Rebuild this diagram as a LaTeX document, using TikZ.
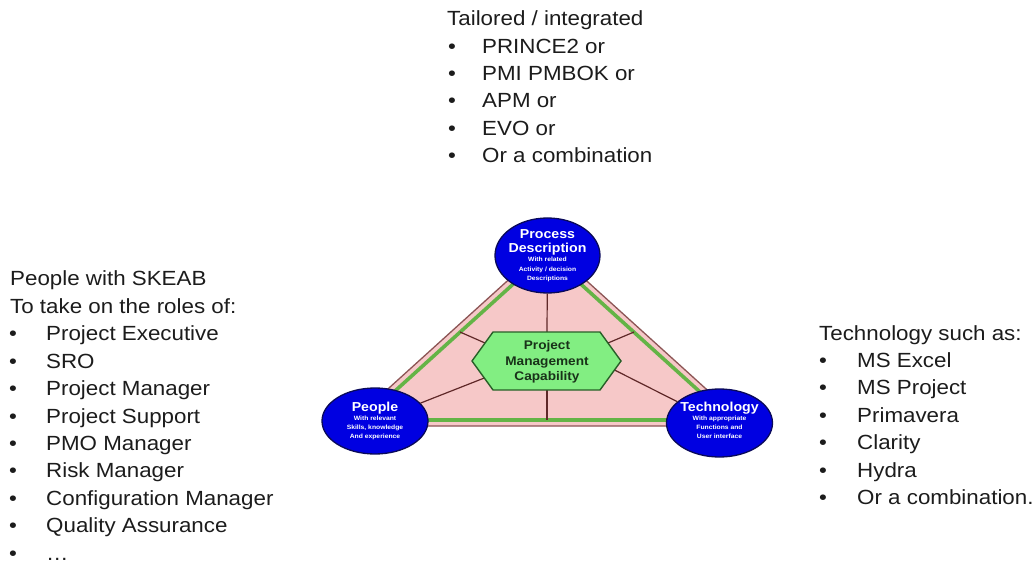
\documentclass[tikz,border=0pt]{standalone}
\usepackage{fontspec}
\setmainfont{Liberation Sans}[FakeStretch=1.09]
\usetikzlibrary{shapes.geometric}
\definecolor{inkgray}{RGB}{28,28,28}
\definecolor{pinkfill}{RGB}{246,200,200}
\definecolor{edgebrown}{RGB}{140,85,85}
\definecolor{bandgreen}{RGB}{100,180,70}
\definecolor{spokecol}{RGB}{95,40,40}
\definecolor{ellblue}{RGB}{0,0,225}
\definecolor{ellline}{RGB}{10,10,90}
\definecolor{hexfill}{RGB}{130,238,130}
\definecolor{hexline}{RGB}{40,95,40}
\definecolor{hextext}{RGB}{25,50,25}
\begin{document}
\begin{tikzpicture}[x=1bp,y=-1bp,
  listtxt/.style={font=\fontsize{20.5bp}{24bp}\selectfont, text=inkgray, inner sep=0pt},
  ellnode/.style={ellipse, draw=ellline, line width=1.3bp, fill=ellblue, inner sep=0pt},
  ttl/.style={font=\fontsize{13bp}{15bp}\selectfont\bfseries, text=white, inner sep=0pt, anchor=base},
  sub/.style={font=\fontsize{6.2bp}{7bp}\selectfont\bfseries, text=white, inner sep=0pt, anchor=base},
  hextxt/.style={font=\fontsize{12.5bp}{15bp}\selectfont\bfseries, text=hextext, inner sep=0pt, anchor=base},
  spoke/.style={draw=spokecol, line width=1.2bp},
]
\useasboundingbox (0,0) rectangle (1035,563);
\fill[white] (0,0) rectangle (1035,563);

% ---- text lists ----
\node[listtxt, anchor=base west] (tophead) at (447,25.7) {Tailored / integrated};
\foreach \t [count=\i] in {PRINCE2 or, PMI PMBOK or, APM or, EVO or, Or a combination} {
  \node[listtxt, anchor=base] (topb\i) at (452,{25.7+27.4*\i}) {•};
  \node[listtxt, anchor=base west] (top\i) at (482,{25.7+27.4*\i}) {\t};
}

\node[listtxt, anchor=base west] (lefthead1) at (10,286) {People with SKEAB};
\node[listtxt, anchor=base west] (lefthead2) at (10,313.4) {To take on the roles of:};
\foreach \t [count=\i] in {Project Executive, SRO, Project Manager, Project Support, PMO Manager, Risk Manager, Configuration Manager, Quality Assurance, …} {
  \node[listtxt, anchor=base] (leftb\i) at (13,{313.4+27.4*\i}) {•};
  \node[listtxt, anchor=base west] (left\i) at (46,{313.4+27.4*\i}) {\t};
}

\node[listtxt, anchor=base west] (righthead) at (819,340) {Technology such as:};
\foreach \t [count=\i] in {MS Excel, MS Project, Primavera, Clarity, Hydra, Or a combination.} {
  \node[listtxt, anchor=base] (rightb\i) at (823,{340+27.4*\i}) {•};
  \node[listtxt, anchor=base west] (right\i) at (857,{340+27.4*\i}) {\t};
}

% ---- triangle ----
\coordinate (oA) at (547,245);
\coordinate (oB) at (347,426);
\coordinate (oC) at (747,426);
\filldraw[fill=pinkfill, draw=edgebrown, line width=1.3bp] (oA) -- (oB) -- (oC) -- cycle;
\coordinate (gA) at (547,253.5);
\coordinate (gB) at (363,420);
\coordinate (gC) at (731,420);
\draw[bandgreen, line width=3.6bp, line join=miter] (gA) -- (gB) -- (gC) -- cycle;

% ---- ellipses ----
\node[ellnode, minimum width=105bp, minimum height=75bp] (proc) at (547.5,255.5) {};
\node[ellnode, minimum width=106bp, minimum height=66bp] (people) at (375,421) {};
\node[ellnode, minimum width=106bp, minimum height=68bp] (tech) at (719.5,423) {};

% ---- hexagon corners and spoke ends ----
\coordinate (hL) at (472,361);
\coordinate (hTL) at (493,332);
\coordinate (hTR) at (600,332);
\coordinate (hR) at (621,361);
\coordinate (hBR) at (600,390);
\coordinate (hBL) at (493,390);
\coordinate (hexT) at (547,332);
\coordinate (hexB) at (547,390);
\coordinate (hexUL) at (485,343);
\coordinate (hexUR) at (608,343);
\coordinate (hexLL) at (484.3,378);
\coordinate (hexLR) at (614.5,370);
\coordinate (baseMid) at (547,420);
\coordinate (edgeL) at (460,332);
\coordinate (edgeR) at (634,332);

\draw[spoke] (hexT) -- (proc);
\draw[spoke] (hexB) -- (baseMid);
\draw[spoke] (hexUL) -- (edgeL);
\draw[spoke] (hexUR) -- (edgeR);
\draw[spoke] (hexLL) -- (people);
\draw[spoke] (hexLR) -- (tech);

\filldraw[fill=hexfill, draw=hexline, line width=1.4bp, line join=miter]
  (hL) -- (hTL) -- (hTR) -- (hR) -- (hBR) -- (hBL) -- cycle;

\node[hextxt] (hex1) at (547,349.3) {Project};
\node[hextxt] (hex2) at (547,365.5) {Management};
\node[hextxt] (hex3) at (547,380.5) {Capability};

% ---- ellipse texts ----
\node[ttl] (proct1) at (547.5,239) {Process};
\node[ttl] (proct2) at (547.5,253) {Description};
\node[sub] (procs1) at (547.5,262) {With related};
\node[sub] (procs2) at (547.5,271.5) {Activity / decision};
\node[sub] (procs3) at (547.5,281) {Descriptions};

\node[ttl] (peot) at (375,411) {People};
\node[sub] (peos1) at (375,420.5) {With relevant};
\node[sub] (peos2) at (375,429.5) {Skills, knowledge};
\node[sub] (peos3) at (375,438.5) {And experience};

\node[ttl] (techt) at (719.5,411.5) {Technology};
\node[sub] (techs1) at (719.5,420.5) {With appropriate};
\node[sub] (techs2) at (719.5,429.5) {Functions and};
\node[sub] (techs3) at (719.5,438.5) {User interface};
\end{tikzpicture}
\end{document}
